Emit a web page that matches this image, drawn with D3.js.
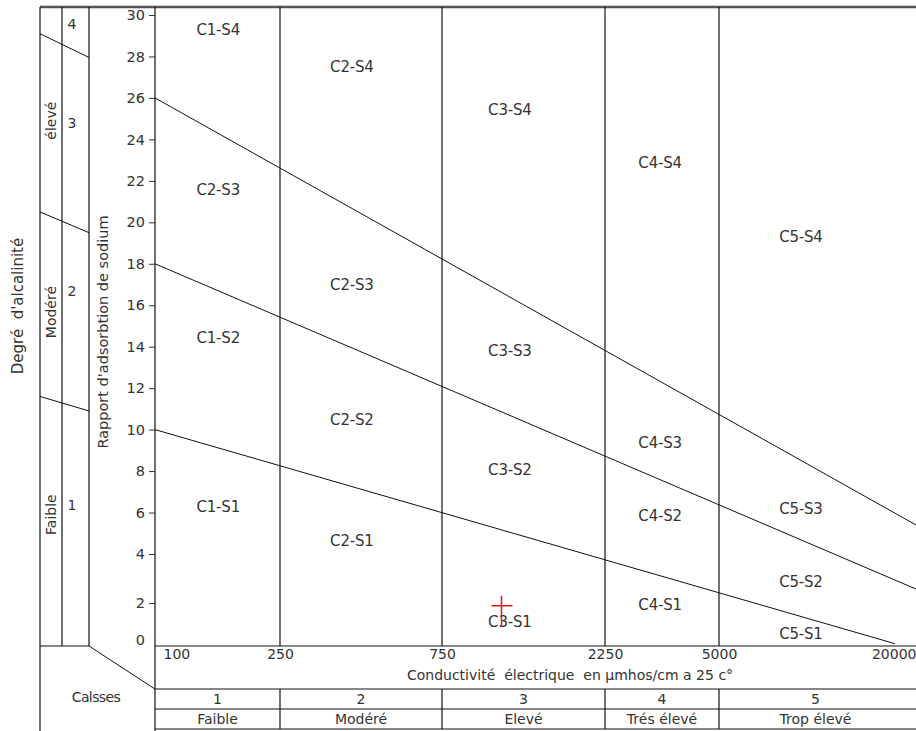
<!DOCTYPE html>
<html>
<head>
<meta charset="utf-8">
<script src="https://cdn.jsdelivr.net/npm/d3@7"></script>
<style>
  body { margin: 0; background: #fff; }
  svg { display: block; font-family: "DejaVu Sans", Verdana, sans-serif; }
  text { fill: #333; white-space: pre; }
</style>
</head>
<body>
<div id="chart"></div>
<script>
// Conductivity class limits (µmhos/cm) and x tick labels
const ecTicks = [100, 250, 750, 2250, 5000, 20000];
const ecLimits = [250, 750, 2250, 5000];
const classNums = ["1", "2", "3", "4", "5"];
const classNames = ["Faible", "Modéré", "Elevé", "Trés élevé", "Trop élevé"];

// SAR ticks
const sarTicks = [0, 2, 4, 6, 8, 10, 12, 14, 16, 18, 20, 22, 24, 26, 28, 30];

// S class boundary lines: [EC, SAR] end points
const s1s2 = [[100, 10], [17250, -0.2]];
const s2s3 = [[100, 18], [20000, 2.57]];
const s3s4 = [[100, 26], [20000, 5.4]];

// region labels
const regionNames = ["C1-S4", "C2-S4", "C3-S4", "C4-S4", "C5-S4",
                     "C2-S3", "C2-S3", "C3-S3", "C4-S3", "C5-S3",
                     "C1-S2", "C2-S2", "C3-S2", "C4-S2", "C5-S2",
                     "C1-S1", "C2-S1", "C3-S1", "C4-S1", "C5-S1"];
const regionEC = [159, 407, 1185, 3310, 8900];
const regionSAR = [29.28, 27.49, 25.42, 22.86, 19.29,
                   21.56, 16.98, 13.79, 9.35, 6.17,
                   14.42, 10.47, 8.06, 5.83, 2.86,
                   6.27, 4.63, 0.97, 1.92, 0.32];

// alkalinity degree column (left panel), in SAR units
const alkBounds = [[29.1, 27.95], [20.5, 19.5], [11.6, 10.9]];
const alkDegrees = ["4", "3", "2", "1"];
const alkDegreeSAR = [29.56, 24.8, 16.7, 6.36];
const alkNames = ["élevé", "Modéré", "Faible"];
const alkNameSAR = [24.9, 15.67, 5.9];

// sample point
const samples = [{ec: 1120, sar: 1.85}];

const W = 916, H = 731;
const topY = 7, plotBottom = 646, rowA = 689, rowB = 709, rowC = 729;
const colA = 40, colB = 62, colC = 89, rightX = 920;

const x = d3.scaleLog()
    .domain(ecTicks)
    .range([155, 280, 442, 605, 719, 916]);

const y = d3.scaleLinear()
    .domain([0, 2, 4, 30])
    .range([640, 603, 554, 15]);

const svg = d3.select("#chart").append("svg")
    .attr("width", W)
    .attr("height", H);

function hline(y0, x1, x2, w, c) {
    svg.append("line").attr("x1", x1).attr("x2", x2).attr("y1", y0).attr("y2", y0)
        .attr("stroke", c || "#111").attr("stroke-width", w || 1.2);
}
function vline(x0, y1, y2, w) {
    svg.append("line").attr("x1", x0).attr("x2", x0).attr("y1", y1).attr("y2", y2)
        .attr("stroke", "#111").attr("stroke-width", w || 1.2);
}

// frame
hline(topY, colA, rightX, 2.5, "#555");
vline(colA, topY, H);
vline(colB, topY, plotBottom);
vline(colC, topY, plotBottom);
vline(x(100), topY, H);
hline(plotBottom, colA, colC);
hline(plotBottom, x(100), rightX);
hline(rowA, x(100), rightX);
hline(rowB, x(100), rightX);
hline(rowC, x(100), rightX);
svg.append("line")
    .attr("x1", colC).attr("y1", plotBottom)
    .attr("x2", x(100)).attr("y2", rowA)
    .attr("stroke", "#111").attr("stroke-width", 1);

// class dividers in plot and table
ecLimits.forEach(function (d) {
    vline(x(d), topY, plotBottom);
    vline(x(d), rowA, rowC);
});

// S boundary lines
const line = d3.line().x(d => x(d[0])).y(d => y(d[1]));
[s1s2, s2s3, s3s4].forEach(function (d) {
    svg.append("path")
        .attr("d", line(d))
        .attr("fill", "none")
        .attr("stroke", "#111")
        .attr("stroke-width", 1);
});

// y axis
const yAxis = svg.append("g")
    .attr("transform", "translate(" + x(100) + ",0)")
    .call(d3.axisLeft(y).tickValues(sarTicks).tickSize(6).tickPadding(4));
yAxis.select(".domain").remove();
yAxis.selectAll("line").attr("stroke", "#333");
yAxis.selectAll(".tick").filter(d => d === 0).select("line").remove();
yAxis.selectAll("text")
    .style("font-size", "14.5px")
    .style("font-family", "DejaVu Sans, Verdana, sans-serif")
    .attr("fill", "#444");

// x axis labels
const xAxis = svg.append("g")
    .attr("transform", "translate(0," + plotBottom + ")")
    .call(d3.axisBottom(x).tickValues(ecTicks).tickSize(0).tickPadding(3).tickFormat(d3.format("d")));
xAxis.select(".domain").remove();
xAxis.selectAll("text")
    .style("font-size", "14px")
    .style("font-family", "DejaVu Sans, Verdana, sans-serif")
    .attr("fill", "#333")
    .attr("text-anchor", (d, i) => i === 0 ? "start" : (i === ecTicks.length - 1 ? "end" : "middle"))
    .attr("dx", (d, i) => i === 0 ? 8 : 0);

svg.append("text")
    .attr("x", 570).attr("y", 680)
    .attr("text-anchor", "middle")
    .style("font-size", "14px")
    .text("Conductivité  électrique  en µmhos/cm a 25 c°");

// table rows
const bounds = [100].concat(ecLimits, [20000]);
const colMid = classNums.map((d, i) => (x(bounds[i]) + Math.min(x(bounds[i + 1]), 912)) / 2);
svg.selectAll(".cnum").data(classNums).enter().append("text")
    .attr("x", (d, i) => colMid[i]).attr("y", rowA + 15)
    .attr("text-anchor", "middle")
    .style("font-size", "14px")
    .text(d => d);
svg.selectAll(".cname").data(classNames).enter().append("text")
    .attr("x", (d, i) => colMid[i]).attr("y", rowB + 15)
    .attr("text-anchor", "middle")
    .style("font-size", "14px")
    .text(d => d);
svg.append("text")
    .attr("x", 96).attr("y", 702)
    .attr("text-anchor", "middle")
    .style("font-size", "14px")
    .style("letter-spacing", "-0.6px")
    .text("Calsses");

// region labels
svg.selectAll(".region").data(regionNames).enter().append("text")
    .attr("x", (d, i) => x(regionEC[i % 5]))
    .attr("y", (d, i) => y(regionSAR[i]))
    .attr("dy", "0.35em")
    .attr("text-anchor", "middle")
    .style("font-size", "15px")
    .style("letter-spacing", "-0.2px")
    .text(d => d);

// left panel: alkalinity
alkBounds.forEach(function (d) {
    svg.append("line")
        .attr("x1", colA).attr("y1", y(d[0]))
        .attr("x2", colC).attr("y2", y(d[1]))
        .attr("stroke", "#111").attr("stroke-width", 1);
});
svg.selectAll(".deg").data(alkDegrees).enter().append("text")
    .attr("x", 72).attr("y", (d, i) => y(alkDegreeSAR[i]))
    .attr("dy", "0.35em")
    .attr("text-anchor", "middle")
    .style("font-size", "14px")
    .text(d => d);
svg.selectAll(".alk").data(alkNames).enter().append("text")
    .attr("transform", (d, i) => "translate(51," + y(alkNameSAR[i]) + ") rotate(-90)")
    .attr("dy", "0.35em")
    .attr("text-anchor", "middle")
    .style("font-size", "14px")
    .text(d => d);

// axis titles
svg.append("text")
    .attr("transform", "translate(18,306) rotate(-90)")
    .attr("dy", "0.35em")
    .attr("text-anchor", "middle")
    .style("font-size", "15px")
    .text("Degré  d'alcalinité");
svg.append("text")
    .attr("transform", "translate(103,332) rotate(-90)")
    .attr("dy", "0.35em")
    .attr("text-anchor", "middle")
    .style("font-size", "14.5px")
    .text("Rapport d'adsorbtion de sodium");

// sample point
samples.forEach(function (d) {
    const px = x(d.ec), py = y(d.sar);
    svg.append("line").attr("x1", px - 10).attr("x2", px + 11).attr("y1", py).attr("y2", py)
        .attr("stroke", "#e01818").attr("stroke-width", 1.5);
    svg.append("line").attr("x1", px).attr("x2", px).attr("y1", py - 10).attr("y2", py + 21)
        .attr("stroke", "#e01818").attr("stroke-width", 1.5);
});
</script>
</body>
</html>
